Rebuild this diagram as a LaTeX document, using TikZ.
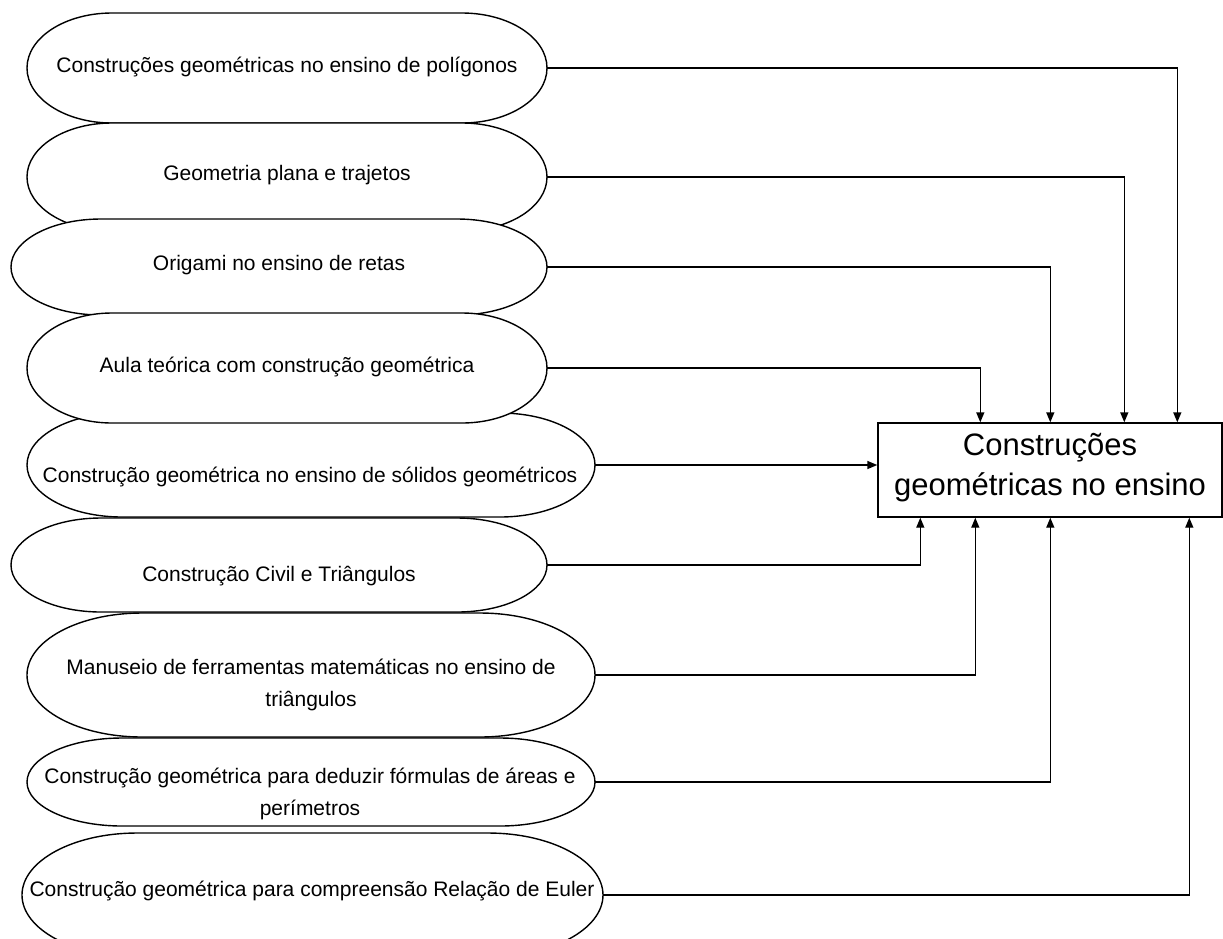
\documentclass[tikz,border=0pt]{standalone}
\usepackage{fontspec}
\setmainfont{Liberation Sans}
\usetikzlibrary{arrows.meta,calc}
% #1 name, #2 cx, #3 cy, #4 half width, #5 half height, #6 cap radius
\newcommand\ovalshape[6]{%
  \filldraw[shapeline] (#2-#4+#6,#3-#5) -- (#2+#4-#6,#3-#5)
    arc[start angle=-90,end angle=90,x radius=#6,y radius=#5]
    -- (#2-#4+#6,#3+#5)
    arc[start angle=90,end angle=270,x radius=#6,y radius=#5] -- cycle;
  \node[anchorbox,minimum width=2*#4,minimum height=2*#5] (#1) at (#2,#3) {};
}
\begin{document}
\begin{tikzpicture}[x=1pt,y=-1pt,
  shapeline/.style={draw=black,fill=white,line width=1.4pt},
  anchorbox/.style={shape=rectangle,inner sep=0pt,draw=none},
  lbl/.style={font=\fontsize{21}{32}\selectfont,align=center,inner sep=0pt},
  biglbl/.style={font=\fontsize{31}{40}\selectfont,align=center,inner sep=0pt},
  conn/.style={line width=1.4pt,-{Triangle[length=10pt,width=8pt]}}
]
\useasboundingbox (0,0) rectangle (1223,938);

\ovalshape{e1}{287}{68}{260}{55}{85}
\ovalshape{e2}{287}{177}{260}{54}{85}
\ovalshape{e3}{279}{267}{268}{48}{90}
\ovalshape{e5}{311}{465}{284}{52}{95}
\ovalshape{e4}{287}{368}{260}{55}{85}
\ovalshape{e6}{279}{565}{268}{47}{90}
\ovalshape{e7}{311}{675}{284}{62}{115}
\ovalshape{e8}{311}{782}{284}{44}{95}
\ovalshape{e9}{312.5}{895}{290.5}{62}{115}

\node[lbl] (t1) at (287,67) {Construções geométricas no ensino de polígonos};
\node[lbl] (t2) at (287,175) {Geometria plana e trajetos};
\node[lbl] (t3) at (279,265) {Origami no ensino de retas};
\node[lbl] (t4) at (287,367) {Aula teórica com construção geométrica};
\node[lbl] (t5) at (310,477) {Construção geométrica no ensino de sólidos geométricos};
\node[lbl] (t6) at (279,576) {Construção Civil e Triângulos};
\node[lbl] (t7) at (311,685) {Manuseio de ferramentas matemáticas no ensino de\\triângulos};
\node[lbl] (t8) at (310,794) {Construção geométrica para deduzir fórmulas de áreas e\\perímetros};
\node[lbl] (t9) at (312,891) {Construção geométrica para compreensão Relação de Euler};

\node[draw=black,line width=1.4pt,minimum width=344,minimum height=94,inner sep=0pt] (goal) at (1050,470) {};
\node[biglbl] (goaltext) at (1050,468) {Construções\\geométricas no ensino};

\draw[conn] (e1.east) -| ($(goal.north west)+(300,0)$);
\draw[conn] (e2.east) -| ($(goal.north west)+(247,0)$);
\draw[conn] (e3.east) -| ($(goal.north west)+(173,0)$);
\draw[conn] (e4.east) -| ($(goal.north west)+(103,0)$);
\draw[conn] (e5.east) -- (e5.east -| goal.west);
\draw[conn] (e6.east) -| ($(goal.south west)+(43,0)$);
\draw[conn] (e7.east) -| ($(goal.south west)+(98,0)$);
\draw[conn] (e8.east) -| ($(goal.south west)+(173,0)$);
\draw[conn] (e9.east) -| ($(goal.south west)+(312,0)$);
\end{tikzpicture}
\end{document}
